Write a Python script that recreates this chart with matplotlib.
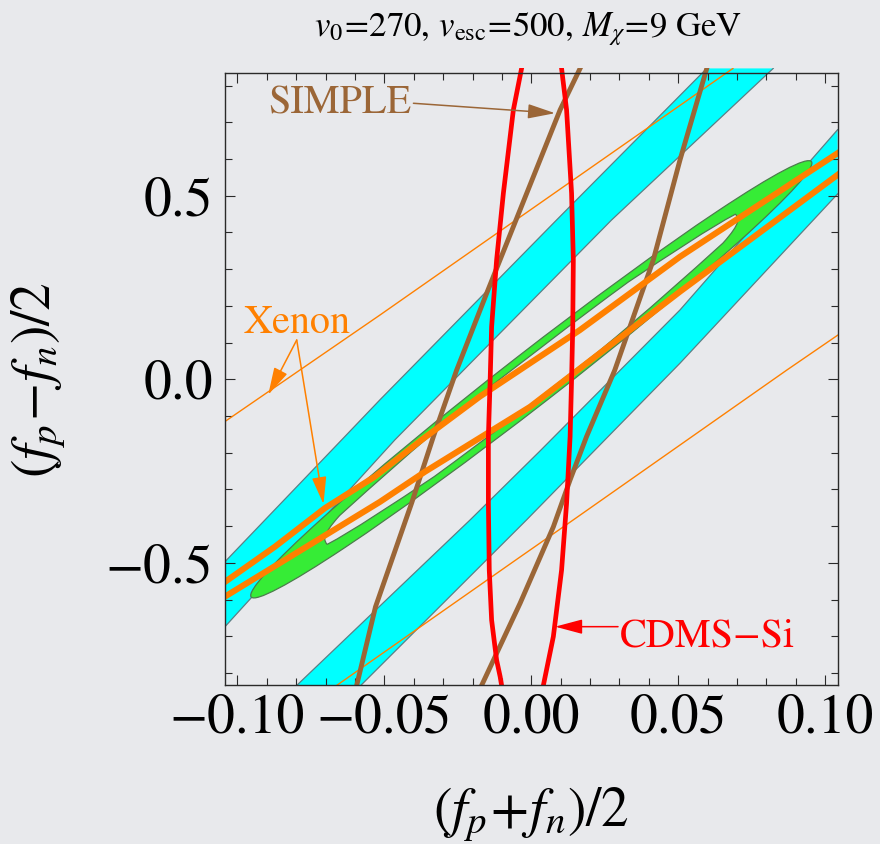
import numpy as np
import matplotlib
matplotlib.use("Agg")
import matplotlib.pyplot as plt
from matplotlib.path import Path
from matplotlib.patches import PathPatch
from matplotlib.transforms import Affine2D
from matplotlib.ticker import MultipleLocator

plt.rcParams["font.family"] = ["STIXGeneral", "DejaVu Sans"]
plt.rcParams["mathtext.fontset"] = "stix"

# ---------------- data ----------------
# Ge signal bands (two parallel strips, upper-left and lower-right)
band_a_upper_x = [-0.1042, -0.0645, -0.0515, 0.0086, 0.0597]
band_a_upper_y = [-0.497, -0.165, -0.056, 0.434, 0.847]
band_a_lower_x = [-0.1042, -0.0464, 0.0273, 0.0823]
band_a_lower_y = [-0.674, -0.165, 0.434, 0.847]

band_b_upper_x = [-0.0798, -0.0208, 0.0030, 0.0506, 0.1042]
band_b_upper_y = [-0.834, -0.383, -0.195, 0.189, 0.680]
band_b_lower_x = [-0.0580, -0.0016, 0.0506, 0.1042]
band_b_lower_y = [-0.834, -0.383, 0.044, 0.505]

# Green elliptical ring: tip semi-diameter, conjugate semi-diameter, inner/outer ratio
ring_tip = [0.0953, 0.593]
ring_side = [-0.00545, 0.0562]
ring_inner_ratio = 0.74

# Xenon, thick contour (two sides)
xe_thick_upper_x = [-0.1042, -0.0872, -0.0702, -0.0532, -0.0373, -0.0175, 0.0165, 0.0506, 0.1042]
xe_thick_upper_y = [-0.552, -0.456, -0.351, -0.265, -0.165, -0.047, 0.134, 0.334, 0.616]
xe_thick_lower_x = [-0.1042, -0.0515, -0.0362, -0.0004, 0.0506, 0.1042]
xe_thick_lower_y = [-0.592, -0.334, -0.252, -0.075, 0.239, 0.557]

# Xenon, thin contour (two sides)
xe_thin_upper_x = [-0.1042, -0.0515, -0.0038, 0.0686]
xe_thin_upper_y = [-0.115, 0.175, 0.442, 0.847]
xe_thin_lower_x = [-0.0662, -0.0038, 0.0143, 0.0506, 0.0869, 0.1042]
xe_thin_lower_y = [-0.834, -0.484, -0.383, -0.179, 0.025, 0.120]

# SIMPLE
simple_left_x = [-0.0594, -0.0530, -0.0407, -0.0333, -0.0254, -0.0152, -0.0061, 0.0030, 0.0098, 0.0166]
simple_left_y = [-0.834, -0.620, -0.337, -0.156, 0.025, 0.234, 0.416, 0.598, 0.734, 0.847]
simple_right_x = [-0.0169, -0.0038, 0.0075, 0.0132, 0.0188, 0.0284, 0.0415, 0.0506, 0.0597]
simple_right_y = [-0.834, -0.610, -0.402, -0.274, -0.156, 0.025, 0.325, 0.598, 0.847]

# CDMS-Si
cdms_left_x = [-0.0033, -0.0061, -0.0095, -0.0118, -0.0135, -0.0140, -0.0146, -0.0146,
               -0.0143, -0.0135, -0.0118, -0.0106, -0.0101]
cdms_left_y = [0.847, 0.734, 0.507, 0.325, 0.143, -0.002, -0.156, -0.338,
               -0.520, -0.656, -0.765, -0.810, -0.834]
cdms_right_x = [0.0103, 0.0120, 0.0137, 0.0143, 0.0141, 0.0137, 0.0132, 0.0120, 0.0103, 0.0075, 0.0041]
cdms_right_y = [0.847, 0.734, 0.507, 0.325, 0.143, -0.002, -0.156, -0.338, -0.520, -0.701, -0.834]

x_ticks = [-0.10, -0.05, 0.00, 0.05, 0.10]
x_tick_labels = ["\u22120.10", "\u22120.05", "0.00", "0.05", "0.10"]
y_ticks = [-0.5, 0.0, 0.5]
y_tick_labels = ["\u22120.5", "0.0", "0.5"]

# ---------------- style ----------------
BG = "#e8e9ec"
CYAN = "#00ffff"
CYAN_EDGE = "#5b7f85"
GREEN = "#36ec36"
GREEN_EDGE = "#4c7c4c"
ORANGE = "#ff8000"
BROWN = "#9b6637"
RED = "#ff0000"
FRAME = "#2a2a2a"

XLIM = (-0.1042, 0.1042)
YLIM = (-0.834, 0.847)
FRAME_TOP = 0.834

fig = plt.figure(figsize=(8.8, 8.44), dpi=100, facecolor=BG)
ax = fig.add_axes([0.25568, 0.18791, 0.69614, 0.73104])
ax.set_facecolor("none")
ax.set_xlim(*XLIM)
ax.set_ylim(*YLIM)

# Ge bands
for ux, uy, lx, ly in [(band_a_upper_x, band_a_upper_y, band_a_lower_x, band_a_lower_y),
                       (band_b_upper_x, band_b_upper_y, band_b_lower_x, band_b_lower_y)]:
    ax.fill(np.r_[ux, lx[::-1]], np.r_[uy, ly[::-1]], color=CYAN, lw=0, zorder=1)
    ax.plot(ux, uy, color=CYAN_EDGE, lw=0.9, zorder=1.5)
    ax.plot(lx, ly, color=CYAN_EDGE, lw=0.9, zorder=1.5)

# Green ring: unit circle mapped through the ellipse's conjugate semi-diameters
circle = Path.unit_circle()
ring_path = Path(np.concatenate([circle.vertices, circle.vertices[::-1] * ring_inner_ratio]),
                 np.concatenate([circle.codes, circle.codes]))
ring_map = Affine2D(np.array([[ring_tip[0], ring_side[0], 0.0],
                              [ring_tip[1], ring_side[1], 0.0],
                              [0.0, 0.0, 1.0]]))
ax.add_patch(PathPatch(ring_path, facecolor=GREEN, edgecolor=GREEN_EDGE, lw=0.9,
                       transform=ring_map + ax.transData, zorder=2))

# Xenon thin
ax.plot(xe_thin_upper_x, xe_thin_upper_y, color=ORANGE, lw=1.0, zorder=3)
ax.plot(xe_thin_lower_x, xe_thin_lower_y, color=ORANGE, lw=1.0, zorder=3)

# SIMPLE
ax.plot(simple_left_x, simple_left_y, color=BROWN, lw=3.5, zorder=4, solid_joinstyle="round")
ax.plot(simple_right_x, simple_right_y, color=BROWN, lw=3.5, zorder=4, solid_joinstyle="round")

# Xenon thick
ax.plot(xe_thick_upper_x, xe_thick_upper_y, color=ORANGE, lw=4.4, zorder=5, solid_joinstyle="round")
ax.plot(xe_thick_lower_x, xe_thick_lower_y, color=ORANGE, lw=4.4, zorder=5, solid_joinstyle="round")

# CDMS-Si
ax.plot(cdms_left_x, cdms_left_y, color=RED, lw=3.4, zorder=6, solid_joinstyle="round")
ax.plot(cdms_right_x, cdms_right_y, color=RED, lw=3.4, zorder=6, solid_joinstyle="round")

# ---------------- frame and ticks ----------------
ax.spines["top"].set_position(("data", FRAME_TOP))
ax.spines["left"].set_bounds(YLIM[0], FRAME_TOP)
ax.spines["right"].set_bounds(YLIM[0], FRAME_TOP)
for s in ax.spines.values():
    s.set_color(FRAME)
    s.set_linewidth(1.0)
    s.set_zorder(8)

ax.set_xticks(x_ticks, x_tick_labels)
ax.set_yticks(y_ticks, y_tick_labels)
ax.xaxis.set_minor_locator(MultipleLocator(0.01))
ax.yaxis.set_minor_locator(MultipleLocator(0.1))
ax.tick_params(which="both", direction="in", top=True, right=True, color=FRAME, width=0.8)
ax.tick_params(which="major", length=7)
ax.tick_params(which="minor", length=5)
ax.tick_params(axis="x", which="major", labelsize=40, pad=6)
ax.tick_params(axis="y", which="major", labelsize=40, pad=8.5)

# ---------------- labels ----------------
arrow_style = "-|>,head_length=0.6,head_width=0.16"

ax.text(-0.0895, 0.725, "SIMPLE", color=BROWN, fontsize=29, ha="left", va="baseline", zorder=9)
ax.annotate("", xy=(0.0081, 0.725), xytext=(-0.0401, 0.752),
            arrowprops=dict(arrowstyle=arrow_style, mutation_scale=28, color=BROWN, lw=1.1,
                            shrinkA=0, shrinkB=0), zorder=9)

ax.text(-0.098, 0.125, "Xenon", color=ORANGE, fontsize=29, ha="left", va="baseline", zorder=9)
for tip in [(-0.0895, -0.042), (-0.0707, -0.340)]:
    ax.annotate("", xy=tip, xytext=(-0.0798, 0.107),
                arrowprops=dict(arrowstyle=arrow_style, mutation_scale=28, color=ORANGE, lw=1.1,
                                shrinkA=0, shrinkB=0), zorder=9)

ax.text(0.0302, -0.729, "CDMS\u2212Si", color=RED, fontsize=29, ha="left", va="baseline", zorder=9)
ax.annotate("", xy=(0.0081, -0.674), xytext=(0.0295, -0.674),
            arrowprops=dict(arrowstyle=arrow_style, mutation_scale=28, color=RED, lw=1.1,
                            shrinkA=0, shrinkB=0), zorder=9)

fig.text(527.5 / 880, 1 - 36.5 / 844,
         r"$v_0\!=\!270,\, v_{\mathrm{esc}}\!=\!500,\, M_\chi\!=\!9\ \mathrm{GeV}$",
         fontsize=25, ha="center", va="baseline")
fig.text(531 / 880, 1 - 826 / 844, r"$(f_p\!+\!f_n)/2$", fontsize=40, ha="center", va="baseline")
fig.text(50 / 880, 1 - 379.5 / 844, r"$(f_p\!-\!f_n)/2$", fontsize=40, rotation=90,
         rotation_mode="anchor", ha="center", va="baseline")

fig.savefig("out.png", dpi=100, facecolor=BG)
